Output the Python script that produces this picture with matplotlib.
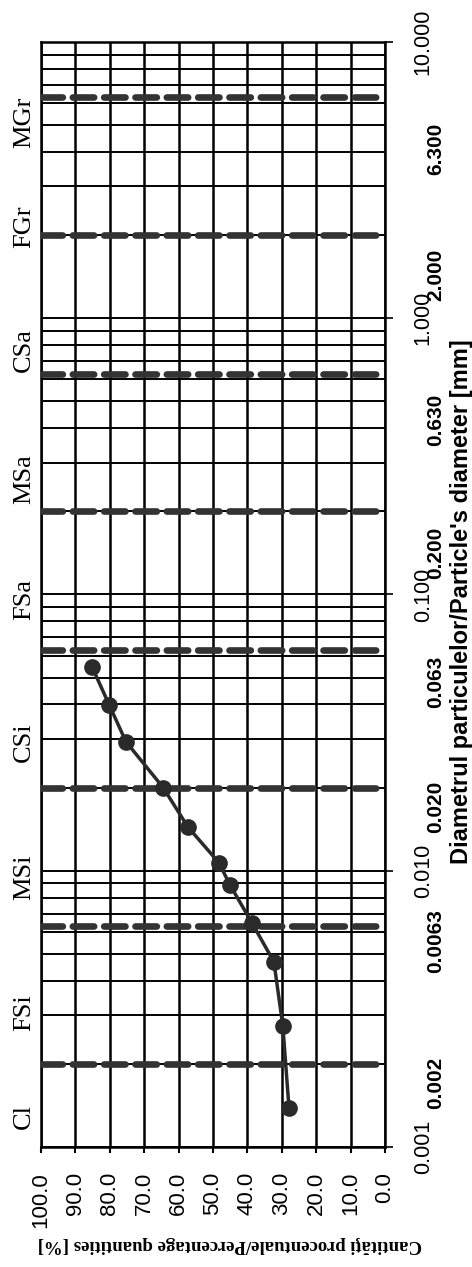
import matplotlib
matplotlib.use('Agg')
import matplotlib.pyplot as plt
import matplotlib.transforms as mtransforms
from matplotlib.ticker import LogLocator, NullFormatter

# Grain-size curve (diameter in mm, percent passing)
diameter = [0.00138, 0.00274, 0.00468, 0.00648, 0.0089, 0.0107, 0.0144, 0.0200, 0.0293, 0.0399, 0.0548]
percent = [27.9, 29.7, 32.3, 38.7, 45.1, 48.3, 57.3, 64.5, 75.3, 80.2, 85.2]

# Fraction boundaries (dashed lines) and fraction names
bounds = [0.002, 0.0063, 0.02, 0.063, 0.2, 0.63, 2.0, 6.3]
zone_names = ['Cl', 'FSi', 'MSi', 'CSi', 'FSa', 'MSa', 'CSa', 'FGr', 'MGr']
zone_pos = [0.00129, 0.00306, 0.0095, 0.0291, 0.096, 0.261, 0.766, 2.15, 5.13]

# Decade tick labels and the boundary labels (placed next to the axis)
decade_ticks = [0.001, 0.01, 0.1, 1.0, 10.0]
decade_labels = ['0.001', '0.010', '0.100', '1.000', '10.000']
bound_labels = ['0.002', '0.0063', '0.020', '0.063', '0.200', '0.630', '2.000', '6.300']
bound_label_pos = [0.00171, 0.00557, 0.0171, 0.0484, 0.142, 0.430, 1.44, 4.09]

pct_ticks = [0, 10, 20, 30, 40, 50, 60, 70, 80, 90, 100]

fig = plt.figure(figsize=(4.72, 12.67), dpi=100)
ax = fig.add_axes([0.0869, 0.0947, 0.7288, 0.8722])

ax.set_yscale('log')
ax.set_ylim(0.001, 10)
ax.set_xlim(100, 0)

# grid
ax.set_xticks(pct_ticks)
ax.set_xticklabels(['%.1f' % v for v in pct_ticks], rotation=90,
                   family='Liberation Sans', fontsize=16)
ax.yaxis.set_major_locator(LogLocator(base=10, numticks=10))
ax.yaxis.set_minor_locator(LogLocator(base=10, subs=range(2, 10), numticks=50))
ax.yaxis.set_minor_formatter(NullFormatter())
ax.yaxis.tick_right()
ax.set_yticks(decade_ticks)
ax.set_yticklabels(decade_labels, rotation=90, va='center',
                   family='Liberation Sans', fontsize=15.5)
ax.tick_params(axis='x', direction='out', length=4, width=1.5, pad=14)
ax.tick_params(axis='y', which='major', direction='out', length=6, width=1.2, pad=14)
ax.tick_params(axis='y', which='minor', length=0)
ax.grid(True, axis='x', color='black', lw=1.8)
ax.grid(True, axis='y', which='both', color='black', lw=1.4)
for s in ax.spines.values():
    s.set_linewidth(1.8)

# boundary dashed lines
for b in bounds:
    ax.axhline(b, color='#333333', lw=4.8, ls=(0, (3.2, 1.5)),
               dash_capstyle='round', zorder=3)

# curve
ax.plot(percent, diameter, color='#2a2a2a', lw=2.5, marker='o', ms=11, zorder=5)

trans = mtransforms.blended_transform_factory(ax.transAxes, ax.transData)
for name, y in zip(zone_names, zone_pos):
    ax.text(-0.049, y, name, transform=trans, rotation=90, ha='center', va='center',
            family='Liberation Serif', fontsize=19, clip_on=False)
for lab, y in zip(bound_labels, bound_label_pos):
    ax.text(1.148, y, lab, transform=trans, rotation=90, ha='center', va='center',
            family='Liberation Sans', fontweight='bold', fontsize=15, clip_on=False)

ax.text(1.222, 0.0944, "Diametrul particulelor/Particle's diameter [mm]", transform=trans,
        rotation=90, ha='center', va='center', family='Liberation Sans',
        fontweight='bold', fontsize=17, clip_on=False)

fig.text(230 / 472, 1 - 1244 / 1267, 'Cantităţi procentuale/Percentage quantities [%]',
         rotation=180, ha='center', va='center', family='Liberation Serif',
         fontweight='bold', fontsize=13.5)

fig.savefig('out.png', dpi=100)
